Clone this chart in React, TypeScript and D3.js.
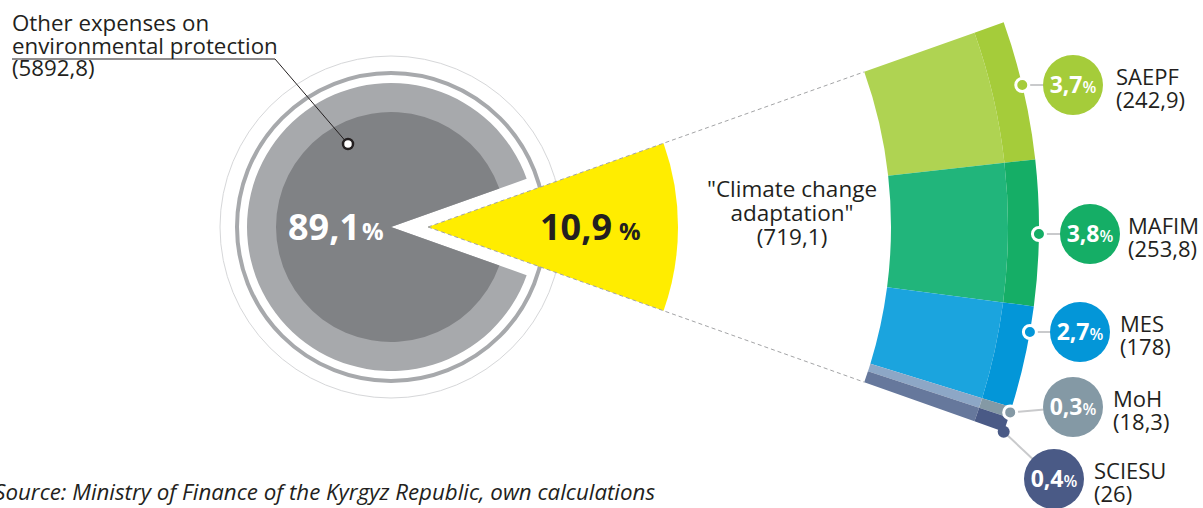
import React from 'react';
import * as d3 from 'd3';

// Budget split (million som) and shares in total environmental expenses
const groupValues = [5892.8, 719.1];
const groupShares = [89.1, 10.9];
const otherLabelLines = ['Other expenses on', 'environmental protection'];
const climateLabelLines = ['"Climate change', 'adaptation"'];

// Climate change adaptation broken down by agency
const agencyNames = ['SAEPF', 'MAFIM', 'MES', 'MoH', 'SCIESU'];
const agencyValues = [242.9, 253.8, 178, 18.3, 26];
const agencyShares = [3.7, 3.8, 2.7, 0.3, 0.4];

const sourceNote = 'Source: Ministry of Finance of the Kyrgyz Republic, own calculations';

// Styling / layout
const W = 1203;
const H = 508;
const FONT = '"Open Sans", "DejaVu Sans", sans-serif';
const TEXT = '#231f20';
const bandLight = ['#afd352', '#21b57b', '#1ba4de', '#8da7c6', '#66789c'];
const bandDark = ['#a5cc3a', '#15ae66', '#0396d8', '#8499a5', '#4a5a86'];
const badgeLayout = [
  { x: 1073, y: 85, dx: 43, anchor: 'badge' },
  { x: 1090, y: 234, dx: 38, anchor: 'badge' },
  { x: 1080, y: 332, dx: 40, anchor: 'badge' },
  { x: 1073, y: 407, dx: 40, anchor: 'mid' },
  { x: 1054, y: 479, dx: 40, anchor: 'end' },
];

const pieC = { x: 391, y: 227 };
const wedgeC = { x: 428, y: 227 };
const R = {
  thin: 171,
  thick: 154,
  outer: 144,
  inner: 115,
  wedge: 250,
  bandIn: 463,
  bandSplit: 580,
  bandOut: 611,
};

const fmt = (v: number) => String(v).replace('.', ',');
const polar = (c: { x: number; y: number }, r: number, a: number) => ({
  x: c.x + r * Math.sin(a),
  y: c.y - r * Math.cos(a),
});

export default function App() {
  const total = d3.sum(groupValues);
  const gap = (groupValues[1] / total) * 2 * Math.PI;
  const a0 = Math.PI / 2 - gap / 2;
  const a1 = Math.PI / 2 + gap / 2;

  const arc = d3.arc<any>();
  const grayOuter = arc({ innerRadius: 0, outerRadius: R.outer, startAngle: a1, endAngle: a0 + 2 * Math.PI }) as string;
  const grayInner = arc({ innerRadius: 0, outerRadius: R.inner, startAngle: a1, endAngle: a0 + 2 * Math.PI }) as string;
  const wedge = arc({ innerRadius: 0, outerRadius: R.wedge, startAngle: a0, endAngle: a1 }) as string;

  const slices = d3
    .pie<number>()
    .sort(null)
    .value((d) => d)
    .startAngle(a0)
    .endAngle(a1)(agencyValues);

  const dashEnds = [a0, a1].map((a) => polar(wedgeC, R.bandIn, a));

  return (
    <svg
      width={W}
      height={H}
      viewBox={`0 0 ${W} ${H}`}
      style={{ position: 'absolute', left: 0, top: 0, display: 'block', background: '#fff' }}
      fontFamily={FONT}
    >
      {/* rings around the main pie */}
      <circle cx={pieC.x} cy={pieC.y} r={R.thin} fill="none" stroke="#d6d7d9" strokeWidth={1} />
      <circle cx={pieC.x} cy={pieC.y} r={R.thick} fill="none" stroke="#a7a9ac" strokeWidth={4} />

      {/* other expenses: pie with the climate slice removed */}
      <g transform={`translate(${pieC.x},${pieC.y})`}>
        <path d={grayOuter} fill="#a7a9ac" />
        <path d={grayInner} fill="#808285" />
      </g>

      {/* climate change adaptation slice, pulled out */}
      <g transform={`translate(${wedgeC.x},${wedgeC.y})`}>
        <path d={wedge} fill="#ffed00" />
      </g>

      {/* dashed guides from the slice to the breakdown band */}
      {dashEnds.map((p, i) => (
        <line
          key={i}
          x1={wedgeC.x}
          y1={wedgeC.y}
          x2={p.x}
          y2={p.y}
          stroke="#a3a4a6"
          strokeWidth={1}
          strokeDasharray="4 3"
        />
      ))}

      {/* breakdown band */}
      <g transform={`translate(${wedgeC.x},${wedgeC.y})`}>
        {slices.map((s, i) => (
          <g key={i}>
            <path
              d={arc({ innerRadius: R.bandIn, outerRadius: R.bandSplit, startAngle: s.startAngle, endAngle: s.endAngle }) as string}
              fill={bandLight[i]}
            />
            <path
              d={arc({ innerRadius: R.bandSplit, outerRadius: R.bandOut, startAngle: s.startAngle, endAngle: s.endAngle }) as string}
              fill={bandDark[i]}
            />
          </g>
        ))}
      </g>

      {/* agency callouts */}
      {slices.map((s, i) => {
        const b = badgeLayout[i];
        let a: number;
        if (b.anchor === 'badge') a = Math.acos((wedgeC.y - b.y) / R.bandOut);
        else if (b.anchor === 'mid') a = (s.startAngle + s.endAngle) / 2;
        else a = s.endAngle;
        const d = polar(wedgeC, R.bandOut, a);
        const last = b.anchor === 'end';
        return (
          <g key={i}>
            <line x1={d.x} y1={d.y} x2={b.x} y2={b.y} stroke="#c9cacc" strokeWidth={2} />
            <circle
              cx={d.x}
              cy={d.y}
              r={last ? 6 : 6.5}
              fill={bandDark[i]}
              stroke={last ? 'none' : '#fff'}
              strokeWidth={3}
            />
            <circle cx={b.x} cy={b.y} r={30} fill={bandDark[i]} />
            <text x={b.x} y={b.y + 8} textAnchor="middle" fill="#fff" fontWeight={700}>
              <tspan fontSize={23}>{fmt(agencyShares[i])}</tspan>
              <tspan fontSize={16} fontWeight={600}>%</tspan>
            </text>
            <text x={b.x + b.dx} y={b.y} fill={TEXT} fontSize={22}>
              {agencyNames[i]}
            </text>
            <text x={b.x + b.dx} y={b.y + 23} fill={TEXT} fontSize={22}>
              ({fmt(agencyValues[i])})
            </text>
          </g>
        );
      })}

      {/* share labels */}
      <text x={288} y={240} fill="#fff" fontWeight={700}>
        <tspan fontSize={36}>{fmt(groupShares[0])}</tspan>
        <tspan fontSize={24} dx={2}>%</tspan>
      </text>
      <text x={540} y={240} fill={TEXT} fontWeight={700}>
        <tspan fontSize={36}>{fmt(groupShares[1])}</tspan>
        <tspan fontSize={24} dx={7}>%</tspan>
      </text>

      {/* climate change adaptation label */}
      <text x={792} y={197} textAnchor="middle" fill={TEXT} fontSize={22.5}>
        <tspan x={792}>{climateLabelLines[0]}</tspan>
        <tspan x={792} dy={24}>{climateLabelLines[1]}</tspan>
        <tspan x={792} dy={24}>({fmt(groupValues[1])})</tspan>
      </text>

      {/* other expenses label with leader */}
      <text x={12} y={31} fill={TEXT} fontSize={22.3}>
        <tspan x={12}>{otherLabelLines[0]}</tspan>
        <tspan x={12} dy={22.5}>{otherLabelLines[1]}</tspan>
        <tspan x={12} dy={22.5}>({fmt(groupValues[0])})</tspan>
      </text>
      <polyline points="12,59 275,59 348,144" fill="none" stroke={TEXT} strokeWidth={1} />
      <circle cx={348} cy={144} r={5} fill="#fff" stroke={TEXT} strokeWidth={2.5} />

      {/* source */}
      <text x={655} y={500} textAnchor="end" fill={TEXT} fontSize={22.3} fontStyle="italic">
        {sourceNote}
      </text>
    </svg>
  );
}
